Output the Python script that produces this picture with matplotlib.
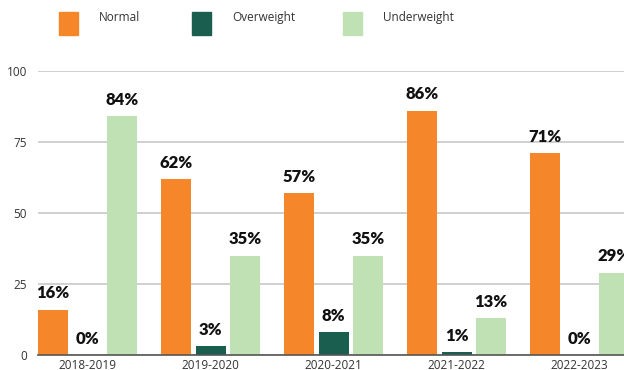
import numpy as np
import matplotlib.pyplot as plt
from matplotlib.patches import Rectangle

years = ['2018-2019', '2019-2020', '2020-2021', '2021-2022', '2022-2023']
normal = [16, 62, 57, 86, 71]
overweight = [0, 3, 8, 1, 0]
underweight = [84, 35, 35, 13, 29]

series = ['Normal', 'Overweight', 'Underweight']
colors = ['#F5862A', '#1A5E50', '#BFE1B4']

fig = plt.figure(figsize=(6.24, 3.70), dpi=100)
ax = fig.add_axes([38 / 624, 1 - 355 / 370, 1 - 38 / 624, (355 - 71) / 370])

x = np.arange(len(years))
w = 0.244
off = 0.28
for i, (vals, c) in enumerate(zip([normal, overweight, underweight], colors)):
    bars = ax.bar(x + (i - 1) * off, vals, width=w, color=c, zorder=3)
    for b, v in zip(bars, vals):
        ax.annotate(f'{v}%', (b.get_x() + b.get_width() / 2, v),
                    xytext=(0, 6), textcoords='offset points',
                    ha='center', va='bottom', fontsize=12,
                    fontweight='heavy', family='Lato', color='#111111',
                    annotation_clip=False, zorder=4)

ax.set_xlim(-0.402, 4.36)
ax.set_ylim(0, 100)
ax.set_yticks([0, 25, 50, 75, 100])
ax.set_xticks(x)
ax.set_xticklabels(years)
ax.grid(axis='y', color='#C8C8C8', linewidth=1.2, zorder=0)
for s in ['top', 'right', 'left']:
    ax.spines[s].set_visible(False)
ax.spines['bottom'].set_color('#555555')
ax.spines['bottom'].set_linewidth(1.2)
ax.spines['bottom'].set_zorder(5)
ax.tick_params(length=0, labelsize=8.5, labelcolor='#333333', pad=3)
for lab in ax.get_xticklabels() + ax.get_yticklabels():
    lab.set_family('Open Sans')
ax.tick_params(axis='y', pad=8)

# legend
leg_x = [59, 192, 343]
for lx, name, c in zip(leg_x, series, colors):
    fig.patches.append(Rectangle((lx / 624, 1 - 35 / 370), 19 / 624, 23 / 370,
                                 transform=fig.transFigure, color=c))
    fig.text((lx + 40) / 624, 1 - 11 / 370, name, ha='left', va='top',
             fontsize=8.5, family='Open Sans', color='#333333')

fig.savefig('out.png', dpi=100)
